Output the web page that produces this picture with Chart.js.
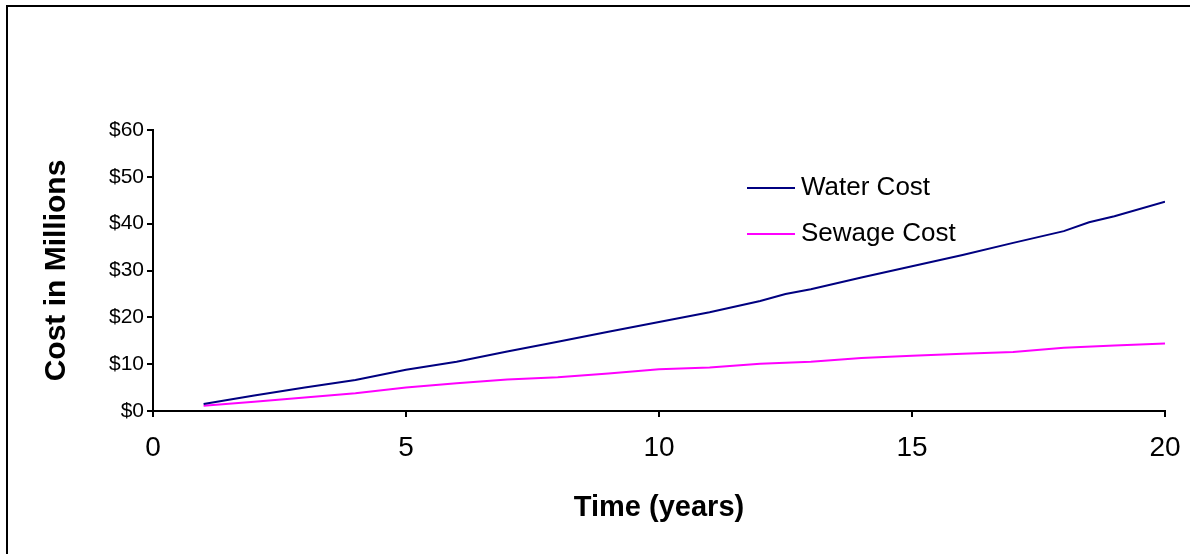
<!DOCTYPE html>
<html>
<head>
<meta charset="utf-8">
<script src="https://cdn.jsdelivr.net/npm/chart.js@4/dist/chart.umd.min.js"></script>
<style>
	html, body { margin: 0; padding: 0; background: #fff; }
	#wrap { width: 1190px; height: 554px; }
</style>
</head>
<body>
<div id="wrap"><canvas id="costChart" width="1190" height="554"></canvas></div>
<script>
// years on the x axis (water series has two extra half-year points)
const waterYears = [1, 2, 3, 4, 5, 6, 7, 8, 9, 10, 11, 12, 12.5, 13, 14, 15, 16, 17, 18, 18.5, 19, 20];
const waterCost = [1.5, 3.3, 5.0, 6.6, 8.8, 10.5, 12.7, 14.8, 16.9, 19.0, 21.1, 23.5, 25.0, 26.0, 28.5, 30.9, 33.3, 35.9, 38.4, 40.3, 41.6, 44.7];
const sewageYears = [1, 2, 3, 4, 5, 6, 7, 8, 9, 10, 11, 12, 13, 14, 15, 16, 17, 18, 19, 20];
const sewageCost = [1.1, 2.0, 2.9, 3.8, 5.0, 5.9, 6.7, 7.2, 8.0, 8.9, 9.3, 10.1, 10.5, 11.3, 11.8, 12.2, 12.6, 13.5, 14.0, 14.4];
const seriesLabels = ['Water Cost', 'Sewage Cost'];
const seriesColors = ['#000080', '#FF00FF'];
const xTicks = [0, 5, 10, 15, 20];
const yTicks = [0, 10, 20, 30, 40, 50, 60];

const toPoints = (xs, ys) => xs.map((x, i) => ({ x: x, y: ys[i] }));

// white page, top and left frame line, and the legend inside the plot
const framePlugin = {
	id: 'frame',
	beforeDraw(chart) {
		const ctx = chart.ctx;
		ctx.save();
		ctx.fillStyle = '#fff';
		ctx.fillRect(0, 0, chart.width, chart.height);
		ctx.strokeStyle = '#000';
		ctx.lineWidth = 2;
		ctx.beginPath();
		ctx.moveTo(7, chart.height);
		ctx.lineTo(7, 6);
		ctx.lineTo(chart.width, 6);
		ctx.stroke();
		ctx.restore();
	},
	afterDraw(chart) {
		const ctx = chart.ctx;
		ctx.save();
		ctx.font = '26px "Liberation Sans", Arial, sans-serif';
		ctx.textBaseline = 'middle';
		ctx.fillStyle = '#000';
		chart.data.datasets.forEach((ds, i) => {
			const y = 188 + i * 46;
			ctx.strokeStyle = ds.borderColor;
			ctx.lineWidth = 2;
			ctx.beginPath();
			ctx.moveTo(747, y);
			ctx.lineTo(795, y);
			ctx.stroke();
			ctx.fillText(ds.label, 801, y);
		});
		ctx.restore();
	},
};

new Chart(document.getElementById('costChart'), {
	type: 'line',
	data: {
		datasets: [
			{
				label: seriesLabels[0],
				data: toPoints(waterYears, waterCost),
				borderColor: seriesColors[0],
				borderWidth: 2,
				pointRadius: 0,
				tension: 0,
			},
			{
				label: seriesLabels[1],
				data: toPoints(sewageYears, sewageCost),
				borderColor: seriesColors[1],
				borderWidth: 2,
				pointRadius: 0,
				tension: 0,
			},
		],
	},
	options: {
		responsive: false,
		animation: false,
		devicePixelRatio: 1,
		layout: { padding: { left: 39, top: 130, right: 25, bottom: 29 } },
		plugins: {
			legend: { display: false },
			tooltip: { enabled: false },
		},
		scales: {
			x: {
				type: 'linear',
				min: xTicks[0],
				max: xTicks[xTicks.length - 1],
				afterBuildTicks: (scale) => {
					scale.ticks = xTicks.map((v) => ({ value: v }));
				},
				afterFit: (scale) => {
					scale.height = 114;
					scale.paddingRight = 0;
					scale.paddingLeft = 0;
				},
				border: { color: '#000', width: 2 },
				grid: { drawOnChartArea: false, drawTicks: true, tickLength: 6, color: '#000', lineWidth: 2 },
				ticks: {
					color: '#000',
					padding: 14,
					font: { family: '"Liberation Sans", Arial, sans-serif', size: 28 },
				},
				title: {
					display: true,
					text: 'Time (years)',
					color: '#000',
					padding: 0,
					font: { family: '"Liberation Sans", Arial, sans-serif', size: 29, weight: 'bold' },
				},
			},
			y: {
				min: yTicks[0],
				max: yTicks[yTicks.length - 1],
				afterBuildTicks: (scale) => {
					scale.ticks = yTicks.map((v) => ({ value: v }));
				},
				afterFit: (scale) => {
					scale.width = 114;
				},
				border: { color: '#000', width: 2 },
				grid: { drawOnChartArea: false, drawTicks: true, tickLength: 6, color: '#000', lineWidth: 2 },
				ticks: {
					color: '#000',
					padding: 3,
					font: { family: '"Liberation Sans", Arial, sans-serif', size: 21 },
					callback: (v) => '$' + v,
				},
				title: {
					display: true,
					text: 'Cost in Millions',
					color: '#000',
					padding: 0,
					font: { family: '"Liberation Sans", Arial, sans-serif', size: 30, weight: 'bold' },
				},
			},
		},
	},
	plugins: [framePlugin],
});
</script>
</body>
</html>
